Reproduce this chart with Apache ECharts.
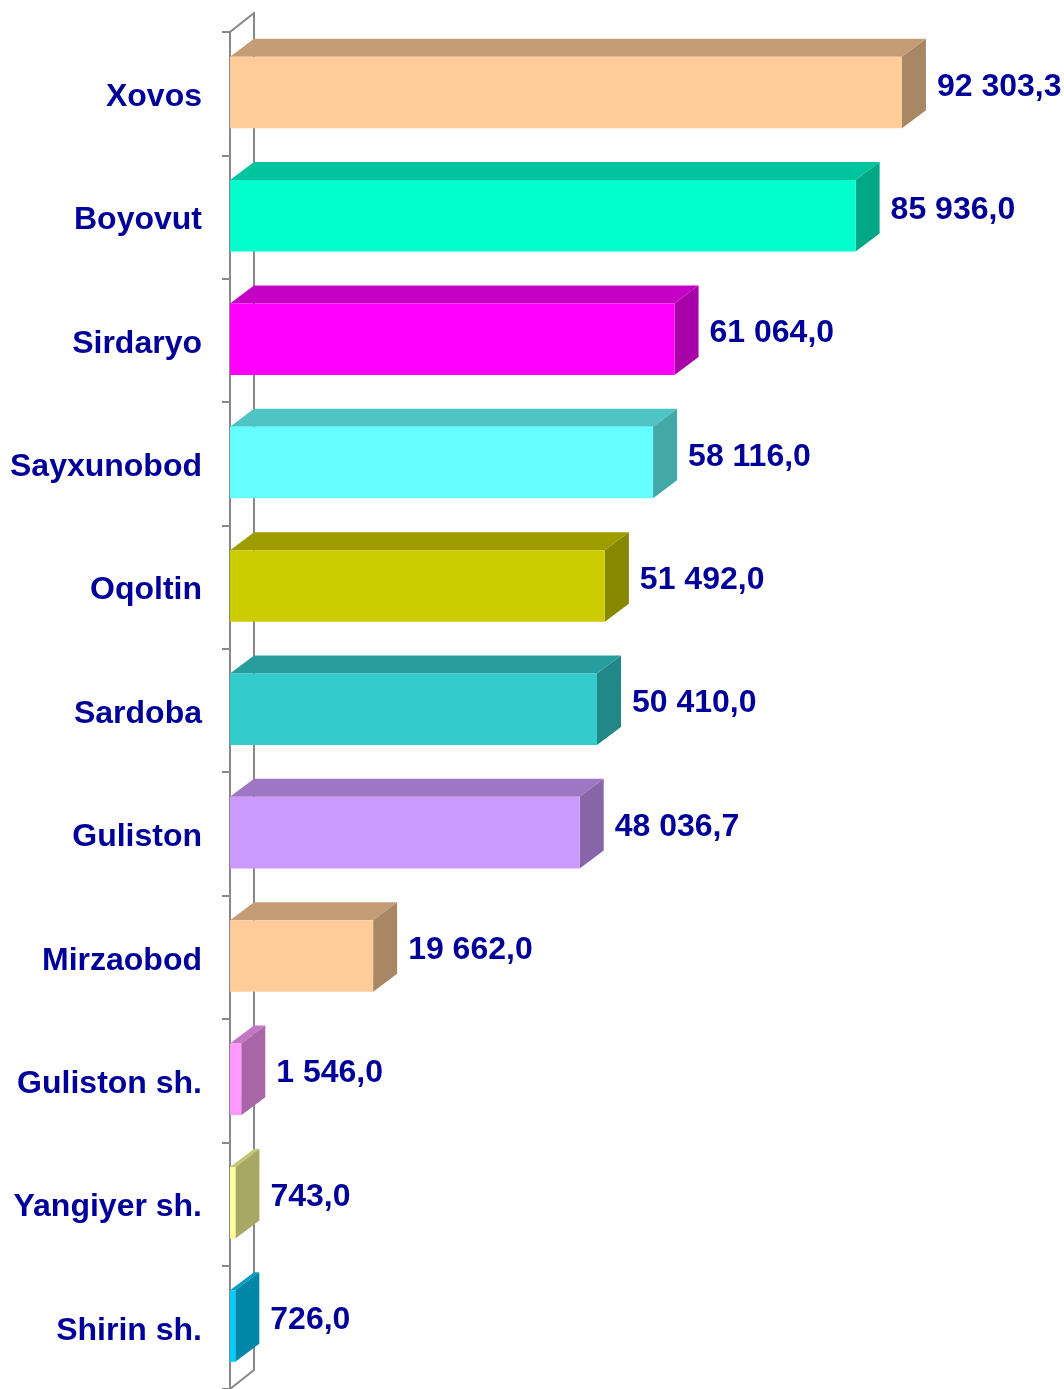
<!DOCTYPE html>
<html>
<head>
<meta charset="utf-8">
<script src="https://cdn.jsdelivr.net/npm/echarts@6/dist/echarts.min.js"></script>
<style>
  html, body { margin: 0; padding: 0; background: #fff; }
  #chart { width: 1064px; height: 1389px; }
</style>
</head>
<body>
<div id="chart"></div>
<script>
// tumanlar (yuqoridan pastga)
const categories = ['Xovos', 'Boyovut', 'Sirdaryo', 'Sayxunobod', 'Oqoltin', 'Sardoba',
  'Guliston', 'Mirzaobod', 'Guliston sh.', 'Yangiyer sh.', 'Shirin sh.'];
const values = [92303.3, 85936.0, 61064.0, 58116.0, 51492.0, 50410.0,
  48036.7, 19662.0, 1546.0, 743.0, 726.0];

// old yuz ranglari
const frontColors = ['#FFCC99', '#00FFCC', '#FF00FF', '#66FFFF', '#CCCC00', '#33CCCC',
  '#CC99FF', '#FFCC99', '#FF99FF', '#FFFF99', '#00CCFF'];

const DX = 24, DY = -18;   // 3D chuqurlik
const labelColor = '#000099';
const fontFamily = '"Liberation Sans", Arial, sans-serif';

function shade(hex, k) {
  const n = parseInt(hex.slice(1), 16);
  const r = Math.round(((n >> 16) & 255) * k);
  const g = Math.round(((n >> 8) & 255) * k);
  const b = Math.round((n & 255) * k);
  return 'rgb(' + r + ',' + g + ',' + b + ')';
}

function fmt(v) {
  const parts = v.toFixed(1).split('.');
  return parts[0].replace(/\B(?=(\d{3})+(?!\d))/g, ' ') + ',' + parts[1];
}

const chart = echarts.init(document.getElementById('chart'));

const option = {
  animation: false,
  grid: { left: 230, top: 32, width: 728, height: 1362 },
  xAxis: { type: 'value', min: 0, max: 100000, show: false },
  yAxis: {
    type: 'category',
    inverse: true,
    data: categories,
    axisLine: { show: false },
    axisTick: { show: true, length: 8, lineStyle: { color: '#888888', width: 2 } },
    axisLabel: {
      margin: 28,
      formatter: '{a|{value}}',
      rich: {
        a: {
          padding: [7, 0, 0, 0],
          color: labelColor,
          fontSize: 32,
          fontWeight: 'bold',
          fontFamily: fontFamily
        }
      }
    },
    splitLine: { show: false }
  },
  series: [
    {
      // chap devor
      type: 'custom',
      silent: true,
      z: 1,
      data: [[0, 0]],
      renderItem: function (params, api) {
        const cs = params.coordSys;
        const x = cs.x, y = cs.y, h = cs.height;
        return {
          type: 'polyline',
          shape: {
            points: [[x, y + h], [x, y], [x + DX, y - 19], [x + DX, y + h - 19], [x, y + h]]
          },
          style: { stroke: '#888888', lineWidth: 2, fill: null }
        };
      }
    },
    {
      type: 'custom',
      z: 3,
      clip: false,
      encode: { x: 0, y: 1 },
      data: values.map((v, i) => [v, i]),
      renderItem: function (params, api) {
        const i = params.dataIndex;
        const v = api.value(0);
        const end = api.coord([v, i]);
        const start = api.coord([0, i]);
        const band = api.size([0, 1])[1];
        const x0 = start[0], x1 = end[0];
        const yc = end[1];
        const yT = yc - band * 0.3;
        const yB = yc + band * 0.28;
        const col = frontColors[i];
        return {
          type: 'group',
          children: [
            {
              type: 'polygon',
              shape: { points: [[x0, yT], [x1, yT], [x1 + DX, yT + DY], [x0 + DX, yT + DY]] },
              style: { fill: shade(col, 0.77) }
            },
            {
              type: 'polygon',
              shape: { points: [[x1, yT], [x1 + DX, yT + DY], [x1 + DX, yB + DY], [x1, yB]] },
              style: { fill: shade(col, 0.66) }
            },
            {
              type: 'rect',
              shape: { x: x0, y: yT, width: x1 - x0, height: yB - yT },
              style: { fill: col }
            },
            {
              type: 'text',
              style: {
                text: fmt(v),
                x: x1 + DX + 11,
                y: yc - 7,
                align: 'left',
                verticalAlign: 'middle',
                fill: labelColor,
                fontSize: 32,
                fontWeight: 'bold',
                fontFamily: fontFamily
              }
            }
          ]
        };
      }
    }
  ]
};

chart.setOption(option);
</script>
</body>
</html>
